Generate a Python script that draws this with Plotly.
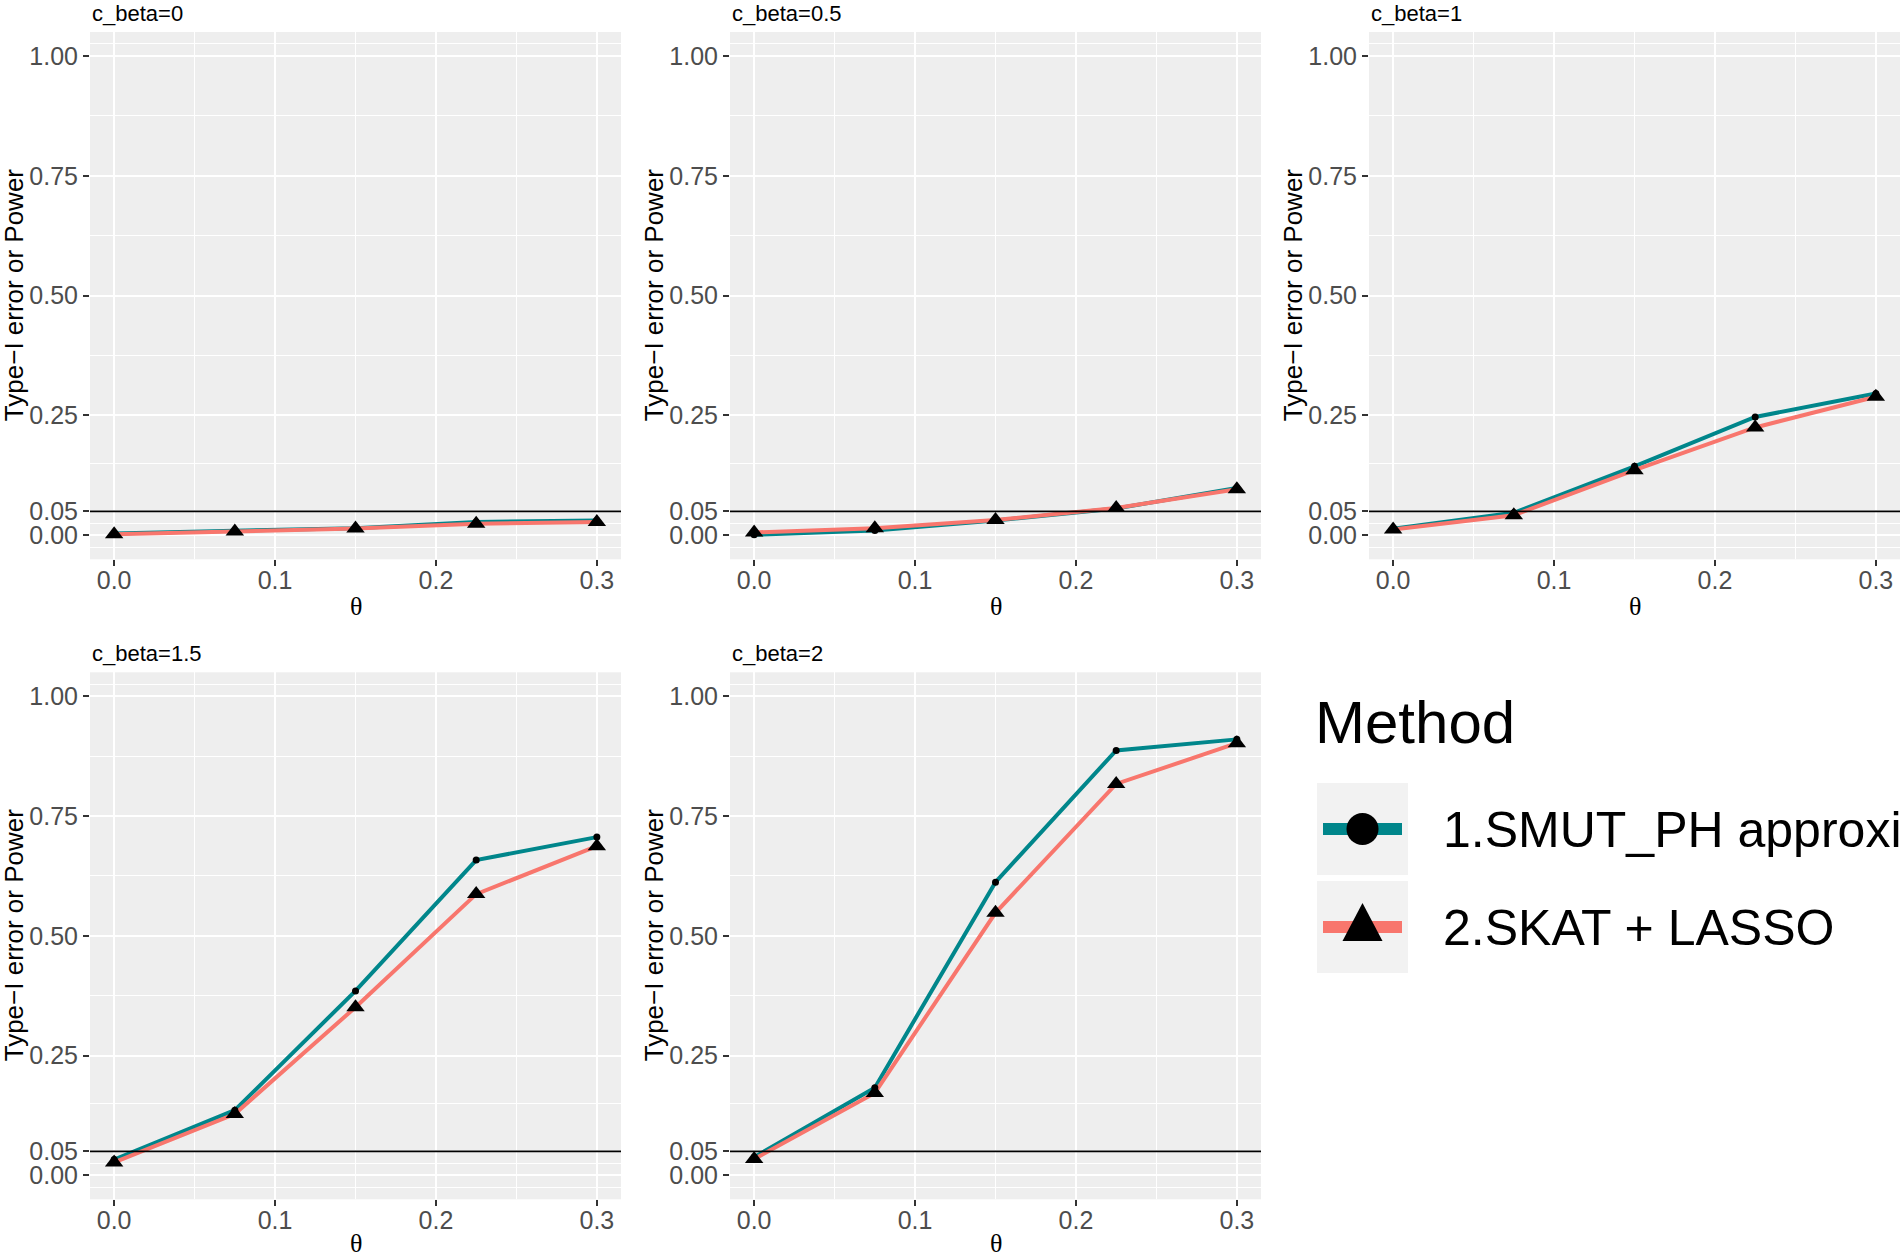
import plotly.graph_objects as go

# ---------------- data ----------------
theta = [0.0, 0.075, 0.15, 0.225, 0.3]
panel_titles = ["c_beta=0", "c_beta=0.5", "c_beta=1", "c_beta=1.5", "c_beta=2"]

smut_cb0 = [0.004, 0.009, 0.015, 0.028, 0.031]
skat_cb0 = [0.002, 0.008, 0.014, 0.024, 0.028]
smut_cb05 = [0.001, 0.010, 0.031, 0.056, 0.099]
skat_cb05 = [0.006, 0.015, 0.032, 0.057, 0.096]
smut_cb1 = [0.014, 0.047, 0.144, 0.247, 0.296]
skat_cb1 = [0.012, 0.042, 0.136, 0.225, 0.289]
smut_cb15 = [0.033, 0.136, 0.385, 0.658, 0.706]
skat_cb15 = [0.027, 0.128, 0.351, 0.587, 0.687]
smut_cb2 = [0.038, 0.183, 0.612, 0.887, 0.910]
skat_cb2 = [0.034, 0.172, 0.548, 0.817, 0.902]

smut_series = [smut_cb0, smut_cb05, smut_cb1, smut_cb15, smut_cb2]
skat_series = [skat_cb0, skat_cb05, skat_cb1, skat_cb15, skat_cb2]

method_names = ["1.SMUT_PH approximation", "2.SKAT + LASSO"]
legend_title = "Method"
y_label = "Type\u2212I error or Power"
x_label = "\u03b8"

y_tick_vals = [0.0, 0.05, 0.25, 0.5, 0.75, 1.0]
y_tick_text = ["0.00", "0.05", "0.25", "0.50", "0.75", "1.00"]
y_minor_vals = [-0.025, 0.025, 0.15, 0.375, 0.625, 0.875, 1.025]
x_tick_vals = [0.0, 0.1, 0.2, 0.3]
x_tick_text = ["0.0", "0.1", "0.2", "0.3"]
x_minor_vals = [0.05, 0.15, 0.25]
alpha_level = 0.05

# ---------------- styling / geometry ----------------
W, H = 1904, 1257
TEAL = "#00868B"
RED = "#F8766D"
PANEL_BG = "#EEEEEE"
FONT = "Liberation Sans, Arial, sans-serif"

col_px = [(90, 621), (730, 1261), (1369, 1900)]
row_px = [(32, 559.3), (672.3, 1199.3)]


def px(x):
    return x / W


def py(y):
    return 1 - y / H


fig = go.Figure()
layout_axes = {}
annotations = []
shapes = []

for i in range(5):
    r, c = divmod(i, 3)
    n = "" if i == 0 else str(i + 1)
    xa, ya = "x" + n, "y" + n
    x0p, x1p = col_px[c]
    y0p, y1p = row_px[r]

    layout_axes["xaxis" + n] = dict(
        domain=[px(x0p), px(x1p)], anchor=ya, range=[-0.015, 0.315],
        tickmode="array", tickvals=x_tick_vals, ticktext=x_tick_text,
        ticks="outside", ticklen=6, tickwidth=1.5, tickcolor="#333333",
        ticklabelstandoff=-7,
        tickfont=dict(family=FONT, size=25, color="#4D4D4D"),
        showgrid=True, gridcolor="white", gridwidth=2.4,
        minor=dict(tickmode="array", tickvals=x_minor_vals, showgrid=True,
                   gridcolor="white", gridwidth=1.2, ticks=""),
        zeroline=False, showline=False, fixedrange=True,
    )
    layout_axes["yaxis" + n] = dict(
        domain=[py(y1p), py(y0p)], anchor=xa, range=[-0.05, 1.05],
        tickmode="array", tickvals=y_tick_vals, ticktext=y_tick_text,
        ticks="outside", ticklen=6, tickwidth=1.5, tickcolor="#333333",
        tickfont=dict(family=FONT, size=25, color="#4D4D4D"),
        showgrid=True, gridcolor="white", gridwidth=2.4,
        minor=dict(tickmode="array", tickvals=y_minor_vals, showgrid=True,
                   gridcolor="white", gridwidth=1.2, ticks=""),
        zeroline=False, showline=False, fixedrange=True,
    )

    # lines
    fig.add_trace(go.Scatter(x=theta, y=smut_series[i], mode="lines", xaxis=xa, yaxis=ya,
                             line=dict(color=TEAL, width=4), showlegend=False,
                             name=method_names[0]))
    fig.add_trace(go.Scatter(x=theta, y=skat_series[i], mode="lines", xaxis=xa, yaxis=ya,
                             line=dict(color=RED, width=4), showlegend=False,
                             name=method_names[1]))
    # points
    fig.add_trace(go.Scatter(x=theta, y=smut_series[i], mode="markers", xaxis=xa, yaxis=ya,
                             marker=dict(color="black", size=7, symbol="circle"),
                             showlegend=False, name=method_names[0]))
    fig.add_trace(go.Scatter(x=theta, y=skat_series[i], mode="markers", xaxis=xa, yaxis=ya,
                             marker=dict(color="black", size=16, symbol="triangle-up"),
                             showlegend=False, name=method_names[1]))

    # reference line at alpha level
    shapes.append(dict(type="line", xref=xa + " domain", yref=ya, x0=0, x1=1,
                       y0=alpha_level, y1=alpha_level, layer="above",
                       line=dict(color="black", width=1.6)))

    # strip title
    annotations.append(dict(text=panel_titles[i], xref="paper", yref="paper",
                            x=px(x0p), y=py(y0p - 18.5), xanchor="left", yanchor="middle",
                            showarrow=False, font=dict(family=FONT, size=22, color="black")))
    # y title
    annotations.append(dict(text=y_label, xref="paper", yref="paper",
                            x=px(x0p - 76.5), y=py((y0p + y1p) / 2), xanchor="center",
                            yanchor="middle", textangle=-90, showarrow=False,
                            font=dict(family=FONT, size=26, color="black")))
    # x title
    annotations.append(dict(text=x_label, xref="paper", yref="paper",
                            x=px((x0p + x1p) / 2), y=py(min(y1p + 47, H - 14)),
                            xanchor="center", yanchor="middle", showarrow=False,
                            font=dict(family="Liberation Serif, Times New Roman, serif",
                                      size=26, color="black")))

# ---------------- legend (drawn manually to mimic ggplot) ----------------
annotations.append(dict(text=legend_title, xref="paper", yref="paper",
                        x=px(1313), y=py(722), xanchor="left", yanchor="middle",
                        showarrow=False, font=dict(family=FONT, size=60, color="black")))

key_boxes = [(783, 875), (881, 973)]
key_x0, key_x1 = 1317, 1408
kx = (key_x0 + key_x1) / 2
key_colors = [TEAL, RED]
for k, (ky0, ky1) in enumerate(key_boxes):
    kyc = (ky0 + ky1) / 2
    shapes.append(dict(type="rect", xref="paper", yref="paper",
                       x0=px(key_x0), x1=px(key_x1), y0=py(ky1), y1=py(ky0),
                       fillcolor="#F2F2F2", line=dict(width=0), layer="above"))
    shapes.append(dict(type="line", xref="paper", yref="paper",
                       x0=px(key_x0 + 6), x1=px(key_x1 - 6), y0=py(kyc), y1=py(kyc),
                       line=dict(color=key_colors[k], width=12), layer="above"))
    annotations.append(dict(text=method_names[k], xref="paper", yref="paper",
                            x=px(1441), y=py(kyc + 1), xanchor="left", yanchor="middle",
                            showarrow=False, font=dict(family=FONT, size=50, color="black")))

# circle glyph
c_y = (key_boxes[0][0] + key_boxes[0][1]) / 2
shapes.append(dict(type="circle", xref="paper", yref="paper",
                   x0=px(kx - 16), x1=px(kx + 16), y0=py(c_y + 16), y1=py(c_y - 16),
                   fillcolor="black", line=dict(color="black", width=0), layer="above"))
# triangle glyph
t_c = (key_boxes[1][0] + key_boxes[1][1]) / 2 + 1
apex, base = t_c - 25, t_c + 13
tri = "M {} {} L {} {} L {} {} Z".format(px(kx), py(apex), px(kx - 20), py(base),
                                         px(kx + 20), py(base))
shapes.append(dict(type="path", xref="paper", yref="paper", path=tri,
                   fillcolor="black", line=dict(color="black", width=0), layer="above"))

fig.update_layout(
    width=W, height=H, margin=dict(l=0, r=0, t=0, b=0),
    paper_bgcolor="white", plot_bgcolor=PANEL_BG,
    showlegend=False, annotations=annotations, shapes=shapes,
    font=dict(family=FONT),
    **layout_axes,
)

fig.write_html(
    "out.html",
    config={"displayModeBar": False},
    post_script="document.body.style.margin='0';document.body.style.padding='0';"
                "document.documentElement.style.overflow='hidden';",
)
